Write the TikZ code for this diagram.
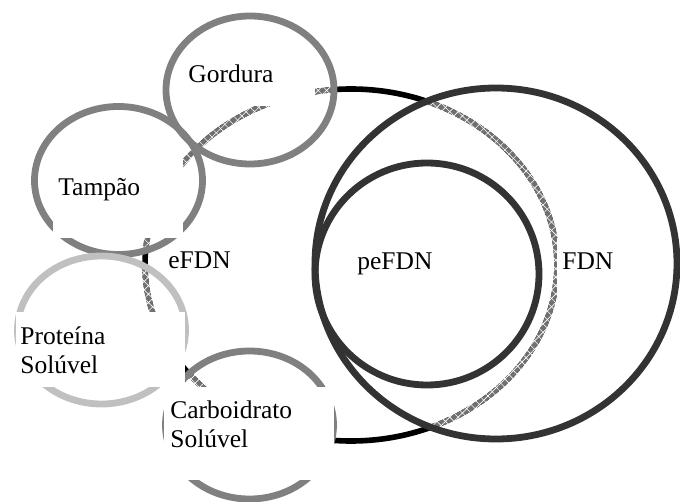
\documentclass[tikz,border=0pt]{standalone}
\usepackage{fontspec}
\setmainfont{Liberation Serif}
\usepackage{tikz}
\usetikzlibrary{patterns.meta}
\definecolor{ringgray}{RGB}{128,128,128}
\definecolor{ringlight}{RGB}{192,192,192}
\definecolor{ringdark}{RGB}{51,51,51}
\definecolor{hatchgray}{RGB}{112,112,112}
\tikzset{
  smallring/.style={x radius=84, y radius=74},
  ringline/.style={line width=3.4pt},
  efdnline/.style={line width=2.8pt},
  lbl/.style={inner sep=0pt, font=\fontsize{12.75}{14.5}\selectfont},
  mask/.style={fill=white},
}

\begin{document}
\begin{tikzpicture}[x=0.5pt, y=-0.5pt]
    \useasboundingbox (0,0) rectangle (680,502);

    % Centres
    \coordinate (GordC) at (250, 90);
    \coordinate (TampC) at (118.5, 180.5);
    \coordinate (ProtC) at (101.5, 330);
    \coordinate (CarbC) at (249.5, 425);
    \coordinate (EfdnC) at (351, 265);
    \coordinate (PefdnC) at (427, 274);
    \coordinate (FdnC) at (496, 263.5);

    % eFDN ring, black outside the other rings
    \draw[efdnline, black] (EfdnC) ellipse [x radius=206, y radius=176];

    % ... and hatched where it runs inside them
    \begin{scope}
        \clip (GordC) ellipse [smallring] (TampC) ellipse [smallring]
              (ProtC) ellipse [smallring] (CarbC) ellipse [smallring]
              (FdnC) ellipse [x radius=181, y radius=175.5];
        \draw[efdnline, hatchgray] (EfdnC) ellipse [x radius=206, y radius=176];
        \fill[pattern={Lines[angle=45, distance=3pt, line width=0.3pt]}, pattern color=white]
            (0,0) rectangle (680,502);
        \fill[pattern={Lines[angle=-45, distance=3pt, line width=0.3pt]}, pattern color=white]
            (0,0) rectangle (680,502);
    \end{scope}

    % Small rings
    \draw[ringline, ringgray] (TampC) ellipse [smallring];
    \draw[ringline, ringgray] (GordC) ellipse [smallring];
    \draw[ringline, ringlight] (ProtC) ellipse [smallring];
    \draw[ringline, ringgray] (CarbC) ellipse [smallring];

    % Fibre rings
    \draw[ringline, ringdark] (PefdnC) ellipse [x radius=112, y radius=111];
    \draw[ringline, ringdark] (FdnC) ellipse [x radius=181, y radius=175.5];

    % Text boxes
    \fill[mask] (185, 55) rectangle (315, 106);
    \fill[mask] (53, 150) rectangle (183, 238);
    \fill[mask] (16, 312) rectangle (185, 387);
    \fill[mask] (164, 387) rectangle (334, 480);
    \fill[mask] (557, 238) rectangle (625, 303);

    % Labels
    \node[lbl, anchor=base west] (gordura) at (188, 83) {Gordura};
    \node[lbl, anchor=base west] (tampao) at (58, 196) {Tampão};
    \node[lbl, anchor=base west] (efdn) at (168, 269) {eFDN};
    \node[lbl, anchor=base west] (pefdn) at (357, 270) {peFDN};
    \node[lbl, anchor=base west] (fdn) at (562, 270) {FDN};
    \node[lbl, align=left, anchor=north west] (proteina) at (20, 326.6) {Proteína\\Solúvel};
    \node[lbl, align=left, anchor=north west] (carboidrato) at (170, 400.6) {Carboidrato\\Solúvel};
\end{tikzpicture}
\end{document}
